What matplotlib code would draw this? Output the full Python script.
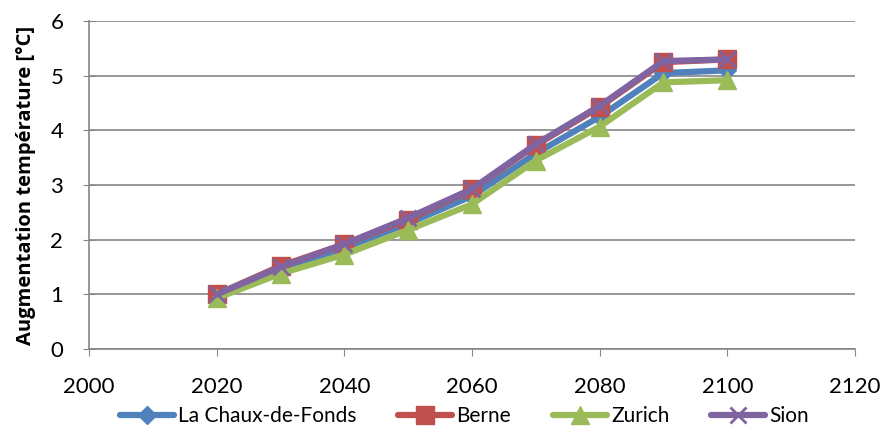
import matplotlib
matplotlib.use("Agg")
import matplotlib.pyplot as plt

# Années et hausse de température par station
annees = [2020, 2030, 2040, 2050, 2060, 2070, 2080, 2090, 2100]
chaux_de_fonds = [0.97, 1.45, 1.85, 2.30, 2.80, 3.58, 4.25, 5.05, 5.10]
berne = [1.00, 1.52, 1.92, 2.37, 2.92, 3.73, 4.43, 5.25, 5.30]
zurich = [0.93, 1.38, 1.73, 2.18, 2.65, 3.45, 4.07, 4.88, 4.92]
sion = [1.00, 1.50, 1.92, 2.40, 2.93, 3.75, 4.45, 5.27, 5.30]

plt.rcParams['font.family'] = ['Lato', 'DejaVu Sans']

fig = plt.figure(figsize=(8.85, 4.32), dpi=100)
ax = fig.add_axes([0.1006, 0.192, 0.8654, 0.759])

series = [
    ("La Chaux-de-Fonds", chaux_de_fonds, "#4F81BD", "D", 9),
    ("Berne", berne, "#C0504D", "s", 13),
    ("Zurich", zurich, "#9BBB59", "^", 13),
    ("Sion", sion, "#8064A2", "x", 11),
]
for nom, vals, couleur, m, ms in series:
    kw = dict(mec=couleur, mfc=couleur)
    if m == "x":
        kw["mew"] = 2
    ax.plot(annees, vals, color=couleur, lw=4.5, marker=m, ms=ms, label=nom,
            solid_capstyle="round", solid_joinstyle="round", **kw)

ax.set_xlim(2000, 2120)
ax.set_ylim(0, 6)
ax.set_xticks(range(2000, 2121, 20))
ax.set_yticks(range(0, 7))
ax.grid(axis="y", color="#868686", lw=1.2)
ax.set_axisbelow(True)
for s in ["top", "right"]:
    ax.spines[s].set_visible(False)
for s in ["left", "bottom"]:
    ax.spines[s].set_color("#868686")
    ax.spines[s].set_linewidth(1.2)
ax.tick_params(axis="y", direction="inout", length=9, color="#868686", labelsize=16, pad=14)
ax.tick_params(axis="x", direction="out", length=5, color="#868686", labelsize=16, pad=15)
ax.set_ylabel("Augmentation température [°C]", fontsize=14.5, fontweight="bold",
              family=["Open Sans", "DejaVu Sans"], labelpad=10)

ax.legend(loc="center", bbox_to_anchor=(0.49, -0.205), ncol=4, frameon=False,
          fontsize=15, handlelength=2.6, columnspacing=2.0, handletextpad=0.2)

fig.savefig("out.png", dpi=100)
